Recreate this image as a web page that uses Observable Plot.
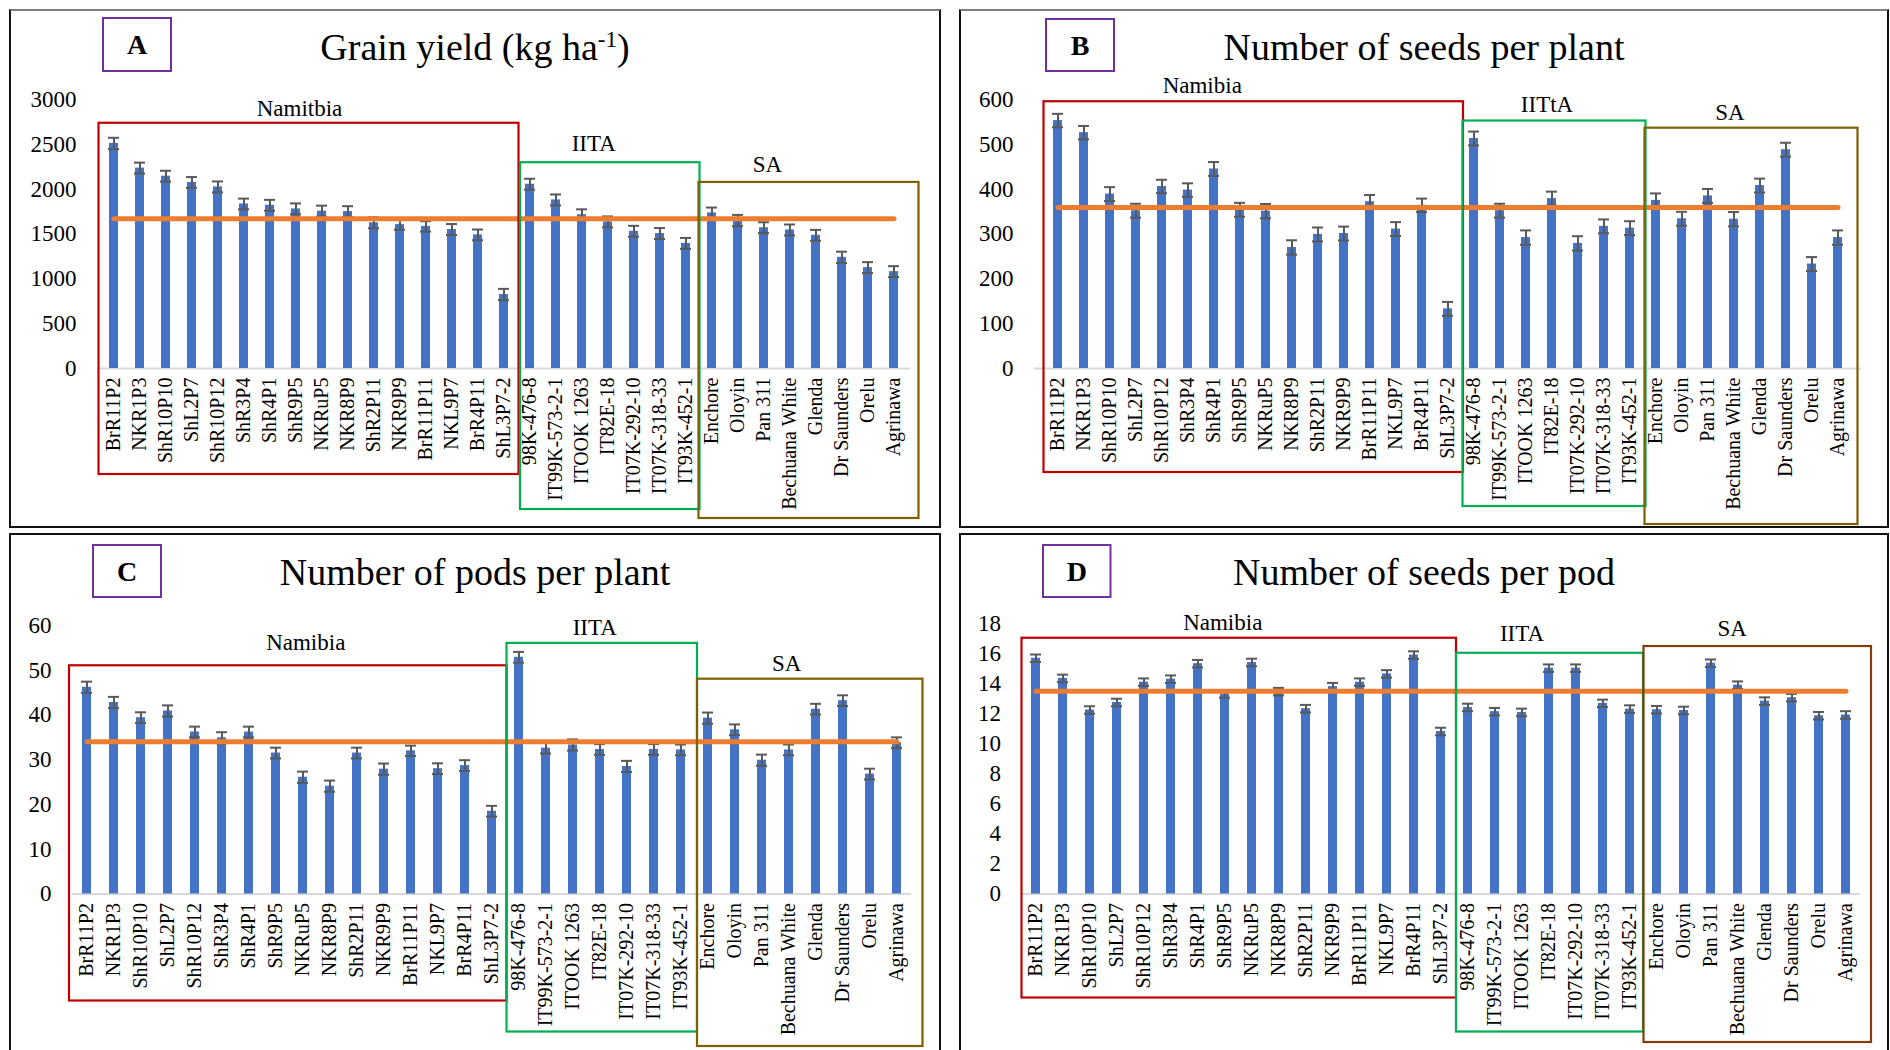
<!DOCTYPE html>
<html>
<head>
<meta charset="utf-8">
<script src="https://cdn.jsdelivr.net/npm/d3@7"></script>
<script src="https://cdn.jsdelivr.net/npm/@observablehq/plot@0.6"></script>
<style>
  html, body { margin: 0; padding: 0; background: #fff; }
  #page { position: relative; width: 1890px; height: 1050px; overflow: hidden; background: #fff; }
  .panel { position: absolute; }
  .frame { position: absolute; box-sizing: border-box; border: 2px solid #111; pointer-events: none; }
</style>
</head>
<body>
<div id="page"></div>
<script>
// Genotypes, in plotting order
const categories = [
  "BrR11P2", "NKR1P3", "ShR10P10", "ShL2P7", "ShR10P12", "ShR3P4", "ShR4P1", "ShR9P5",
  "NKRuP5", "NKR8P9", "ShR2P11", "NKR9P9", "BrR11P11", "NKL9P7", "BrR4P11", "ShL3P7-2",
  "98K-476-8", "IT99K-573-2-1", "ITOOK 1263", "IT82E-18", "IT07K-292-10", "IT07K-318-33", "IT93K-452-1",
  "Enchore", "Oloyin", "Pan 311", "Bechuana White", "Glenda", "Dr Saunders", "Orelu", "Agrinawa"
];

// A: grain yield (kg/ha)
const grainYield = [2510, 2235, 2145, 2075, 2025, 1835, 1820, 1780, 1755, 1750, 1625, 1605, 1585, 1550, 1490, 825,
  2055, 1880, 1715, 1635, 1530, 1505, 1395,
  1735, 1650, 1570, 1545, 1485, 1240, 1125, 1080];
const grainYieldErr = [63, 61, 60, 60, 61, 60, 61, 61, 61, 60, 61, 58, 58, 61, 60, 63,
  61, 61, 60, 61, 61, 61, 61,
  60, 63, 61, 61, 61, 63, 61, 61];
const grainYieldMean = 1670;
const grainYieldTicks = [0, 500, 1000, 1500, 2000, 2500, 3000];

// B: number of seeds per plant
const seedsPerPlant = [553, 526, 389, 352, 406, 398, 445, 354, 351, 270, 299, 301, 372, 311, 364, 133,
  513, 352, 292, 379, 279, 317, 313,
  375, 334, 385, 333, 408, 488, 233, 292];
const seedsPerPlantErr = [15, 15, 15.5, 15.5, 15, 15, 15.5, 15.5, 16, 16, 15.5, 15.5, 15, 15.5, 15, 15.5,
  15.5, 15.5, 16, 15.5, 16, 15.5, 15.5,
  15.5, 15.5, 15.5, 16, 15.5, 15.5, 15.5, 16];
const seedsPerPlantMean = 359;
const seedsPerPlantTicks = [0, 100, 200, 300, 400, 500, 600];

// C: number of pods per plant
const podsPerPlant = [46.2, 42.8, 39.4, 40.9, 36.2, 34.9, 36.2, 31.5, 26.1, 24.1, 31.5, 27.9, 32.0, 28.0, 28.7, 18.5,
  52.9, 32.6, 33.3, 32.3, 28.5, 32.3, 32.2,
  39.3, 36.7, 29.9, 32.2, 41.3, 43.2, 26.8, 33.8];
const podsPerPlantErr = [1.25, 1.25, 1.2, 1.25, 1.2, 1.25, 1.2, 1.2, 1.25, 1.25, 1.2, 1.25, 1.15, 1.2, 1.2, 1.2,
  1.2, 1.2, 1.25, 1.2, 1.25, 1.2, 1.2,
  1.25, 1.2, 1.25, 1.2, 1.2, 1.2, 1.2, 1.2];
const podsPerPlantMean = 34.0;
const podsPerPlantTicks = [0, 10, 20, 30, 40, 50, 60];

// D: number of seeds per pod
const seedsPerPod = [15.67, 14.33, 12.23, 12.73, 14.08, 14.28, 15.31, 13.3, 15.39, 13.45, 12.32, 13.78, 14.08, 14.63, 15.88, 10.8,
  12.4, 12.12, 12.07, 15.01, 15.01, 12.67, 12.29,
  12.25, 12.2, 15.34, 13.88, 12.82, 13.05, 11.85, 11.9];
const seedsPerPodErr = [0.25, 0.25, 0.25, 0.25, 0.25, 0.25, 0.25, 0.25, 0.25, 0.25, 0.25, 0.25, 0.25, 0.25, 0.25, 0.25,
  0.25, 0.25, 0.25, 0.25, 0.25, 0.25, 0.25,
  0.25, 0.25, 0.25, 0.25, 0.25, 0.25, 0.25, 0.25];
const seedsPerPodMean = 13.47;
const seedsPerPodTicks = [0, 2, 4, 6, 8, 10, 12, 14, 16, 18];

// Germplasm sources (first and last genotype of each block)
const sourceBlocks = [
  {from: "BrR11P2", to: "ShL3P7-2", color: "#C00000"},
  {from: "98K-476-8", to: "IT93K-452-1", color: "#00B050"},
  {from: "Enchore", to: "Agrinawa", color: "#7F6000"}
];

const serif = "'Liberation Serif', 'Times New Roman', serif";

const panels = [
  {
    letter: "A", title: ["Grain yield (kg ha", "-1", ")"],
    values: grainYield, errors: grainYieldErr, mean: grainYieldMean, ticks: grainYieldTicks,
    x0: 9, y0: 9, w: 932, h: 519, topBorder: "#7f7f7f",
    margin: {left: 88, right: 31, top: 90, bottom: 160},
    letterBox: {x: 94, y: 9, w: 68, h: 53}, titleY: 51,
    boxes: [
      {label: "Namitbia", top: 2735, bottom: 106, dl: -2, dr: 2, ldx: -9, ldy: 15},
      {label: "IITA", top: 2295, bottom: 141, dl: 3.5, dr: 1, ldx: -16, ldy: 19},
      {label: "SA", top: 2075, bottom: 150, dl: 0, dr: 12, ldx: -41, ldy: 18}
    ]
  },
  {
    letter: "B", title: ["Number of seeds per plant"],
    values: seedsPerPlant, errors: seedsPerPlantErr, mean: seedsPerPlantMean, ticks: seedsPerPlantTicks,
    x0: 959, y0: 9, w: 930, h: 519, topBorder: "#7f7f7f",
    margin: {left: 75, right: 28, top: 90, bottom: 160},
    letterBox: {x: 87, y: 10, w: 68, h: 52}, titleY: 51,
    boxes: [
      {label: "Namibia", top: 595, bottom: 104, dl: -1, dr: 2.5, ldx: -51, ldy: 16},
      {label: "IITtA", top: 552, bottom: 138, dl: 2, dr: 3, ldx: -7, ldy: 17},
      {label: "SA", top: 536, bottom: 156, dl: 2, dr: 7, ldx: -21, ldy: 16}
    ]
  },
  {
    letter: "C", title: ["Number of pods per plant"],
    values: podsPerPlant, errors: podsPerPlantErr, mean: podsPerPlantMean, ticks: podsPerPlantTicks,
    x0: 9, y0: 533, w: 932, h: 520, topBorder: "#111",
    margin: {left: 63, right: 30, top: 92, bottom: 159.5},
    letterBox: {x: 84, y: 12, w: 68, h: 52}, titleY: 52,
    boxes: [
      {label: "Namibia", top: 51, bottom: 107, dl: -4, dr: 1.5, ldx: 18, ldy: 23},
      {label: "IITA", top: 56, bottom: 138, dl: 1.5, dr: 3, ldx: -7, ldy: 16},
      {label: "SA", top: 48, bottom: 152.5, dl: 3, dr: 12.5, ldx: -23, ldy: 16}
    ]
  },
  {
    letter: "D", title: ["Number of seeds per pod"],
    values: seedsPerPod, errors: seedsPerPodErr, mean: seedsPerPodMean, ticks: seedsPerPodTicks,
    x0: 959, y0: 533, w: 930, h: 520, topBorder: "#111",
    margin: {left: 62.5, right: 29, top: 89.7, bottom: 159.5},
    letterBox: {x: 84, y: 12, w: 67.5, h: 52}, titleY: 52,
    boxes: [
      {label: "Namibia", top: 17.0, bottom: 104, dl: -0.5, dr: 2, ldx: -16, ldy: 16},
      {label: "IITA", top: 16.0, bottom: 138, dl: 2, dr: 0, ldx: -27.5, ldy: 20},
      {label: "SA", top: 16.45, bottom: 148.5, dl: 0.5, dr: 12, ldx: -25, ldy: 18, color: "#843C0C"}
    ]
  }
];

const page = document.getElementById("page");

for (const p of panels) {
  const rows = categories.map((cat, i) => ({cat, value: p.values[i], err: p.errors[i]}));

  const chart = Plot.plot({
    width: p.w,
    height: p.h,
    marginLeft: p.margin.left,
    marginRight: p.margin.right,
    marginTop: p.margin.top,
    marginBottom: p.margin.bottom,
    style: {fontFamily: serif, fontSize: "19.5px", color: "#000", background: "transparent", overflow: "visible"},
    x: {type: "band", domain: categories, paddingInner: 0.65, paddingOuter: 0.325, label: null},
    y: {domain: [p.ticks[0], p.ticks[p.ticks.length - 1]], label: null},
    marks: [
      Plot.ruleY([0], {stroke: "#d9d9d9", strokeWidth: 2}),
      Plot.barY(rows, {x: "cat", y: "value", fill: "#4472C4"}),
      Plot.ruleX(rows, {x: "cat", y1: d => d.value - d.err, y2: d => d.value + d.err, stroke: "#595959", strokeWidth: 2}),
      Plot.tickY(rows, {x: "cat", y: d => d.value - d.err, stroke: "#595959", strokeWidth: 2, insetLeft: -1, insetRight: -1}),
      Plot.tickY(rows, {x: "cat", y: d => d.value + d.err, stroke: "#595959", strokeWidth: 2, insetLeft: -1, insetRight: -1}),
      Plot.line(categories, {x: d => d, y: () => p.mean, stroke: "#ED7D31", strokeWidth: 5, strokeLinecap: "round"}),
      Plot.axisX({tickRotate: -90, tickSize: 0, tickPadding: 9, fontSize: 20, fill: "#000"}),
      Plot.axisY({ticks: p.ticks, tickFormat: "d", tickSize: 0, tickPadding: 21, fontSize: 23, fill: "#000"})
    ]
  });

  const holder = document.createElement("div");
  holder.className = "panel";
  holder.style.left = p.x0 + "px";
  holder.style.top = p.y0 + "px";
  holder.style.width = p.w + "px";
  holder.style.height = p.h + "px";
  holder.appendChild(chart);
  page.appendChild(holder);

  const xs = chart.scale("x");
  const ys = chart.scale("y");
  const step = xs.step;
  const base = ys.apply(0);
  const svg = d3.select(chart);
  const overlay = svg.append("g").attr("font-family", serif);

  // Source blocks: framed groups of genotypes with their labels
  p.boxes.forEach((b, i) => {
    const blk = sourceBlocks[i];
    const x1 = xs.apply(blk.from) + xs.bandwidth / 2 - step / 2 + b.dl;
    const x2 = xs.apply(blk.to) + xs.bandwidth / 2 + step / 2 + b.dr;
    const yTop = ys.apply(b.top);
    const yBot = base + b.bottom;
    overlay.append("rect")
      .attr("x", x1).attr("y", yTop)
      .attr("width", x2 - x1).attr("height", yBot - yTop)
      .attr("fill", "none").attr("stroke", b.color || blk.color).attr("stroke-width", 2.2);
    overlay.append("text")
      .attr("x", (x1 + x2) / 2 + b.ldx).attr("y", yTop - b.ldy)
      .attr("dy", "0.35em").attr("text-anchor", "middle")
      .attr("font-size", 23).attr("fill", "#000")
      .text(b.label);
  });

  // Panel letter in its box
  const lb = p.letterBox;
  overlay.append("rect")
    .attr("x", lb.x).attr("y", lb.y).attr("width", lb.w).attr("height", lb.h)
    .attr("fill", "none").attr("stroke", "#7030A0").attr("stroke-width", 2);
  overlay.append("text")
    .attr("x", lb.x + lb.w / 2).attr("y", lb.y + lb.h / 2)
    .attr("dy", "0.35em").attr("text-anchor", "middle")
    .attr("font-size", 28).attr("font-weight", "bold").attr("fill", "#000")
    .text(p.letter);

  // Panel title
  const t = overlay.append("text")
    .attr("x", p.w / 2).attr("y", p.titleY)
    .attr("text-anchor", "middle").attr("font-size", 38).attr("fill", "#000");
  t.append("tspan").text(p.title[0]);
  if (p.title.length > 1) {
    t.append("tspan").attr("dy", -13).attr("font-size", 23).text(p.title[1]);
    t.append("tspan").attr("dy", 13).text(p.title[2]);
  }

  // Panel frame
  const frame = document.createElement("div");
  frame.className = "frame";
  frame.style.left = p.x0 + "px";
  frame.style.top = p.y0 + "px";
  frame.style.width = p.w + "px";
  frame.style.height = p.h + "px";
  frame.style.borderTopColor = p.topBorder;
  page.appendChild(frame);
}
</script>
</body>
</html>
